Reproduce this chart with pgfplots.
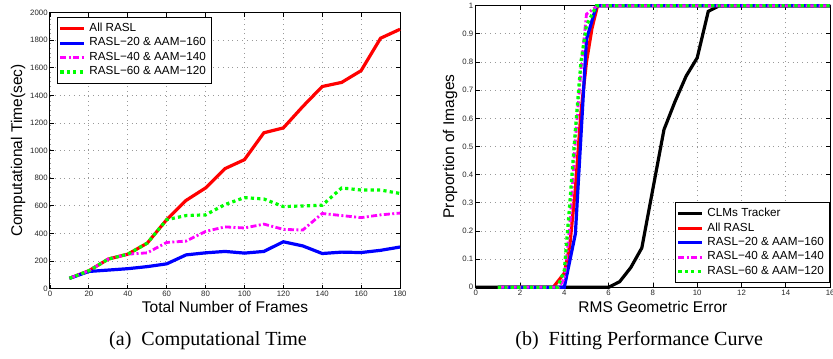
\documentclass[border=0pt]{standalone}
\usepackage{pgfplots}
\pgfplotsset{compat=1.18}
\usepackage{fontspec}
\setmainfont{Liberation Sans}
\newfontfamily\capfont{Liberation Serif}
\definecolor{mred}{RGB}{255,0,0}
\definecolor{mblue}{RGB}{0,0,255}
\definecolor{mmag}{RGB}{255,0,255}
\definecolor{mgreen}{RGB}{0,255,0}
\begin{document}
\begin{tikzpicture}
\path[use as bounding box] (0pt,0pt) rectangle (416.5pt,179pt);
\pgfplotsset{
  every axis/.append style={
    scale only axis,
    clip=false,
    axis line style={line width=0.5pt},
    tick align=inside,
    major tick length=2pt,
    tick style={line width=0.4pt, black},
    grid=major,
    major grid style={dotted, gray!80, line width=0.4pt},
    ticklabel style={font=\fontsize{3.9}{4.5}\selectfont, text=black!85, inner sep=1pt},
    /pgf/number format/assume math mode=true,
    /pgf/number format/1000 sep={},
    label style={font=\fontsize{7.75}{9}\selectfont},
    legend style={font=\fontsize{5.85}{7}\selectfont, draw=black, line width=0.6pt,
      inner sep=0.8pt, row sep=-2.4pt, cells={anchor=west}},
    legend cell align=left,
    legend image code/.code={\draw[#1] (0pt,0pt) -- (11.7pt,0pt);},
  },
}
\begin{scope}[shift={(25pt,34.65pt)}]
\begin{axis}[
  at={(0pt,0pt)}, anchor=south west,
  width=175pt, height=138pt,
  xmin=0, xmax=180, ymin=0, ymax=2000,
  xtick={0,20,...,180}, ytick={0,200,...,2000},
  scaled y ticks=false,
  xlabel={Total Number of Frames},
  ylabel={Computational Time(sec)},
  xlabel style={at={(axis description cs:0.5,-0.065)}, anchor=center},
  ylabel style={at={(axis description cs:-0.0914,0.5)}, anchor=center},
  legend style={at={(axis description cs:0.019,0.985)}, anchor=north west},
]
\addplot[mred, line width=1.6pt] coordinates {
(10,75)(20,130)(30,215)(40,250)(50,330)(60,500)(70,640)(80,730)(90,870)(100,935)
(110,1130)(120,1165)(130,1320)(140,1465)(150,1495)(160,1580)(170,1815)(180,1880)};
\addlegendentry{All RASL}
\addplot[mblue, line width=1.6pt] coordinates {
(10,75)(20,125)(30,135)(40,145)(50,160)(60,180)(70,245)(80,260)(90,270)(100,258)
(110,270)(120,340)(130,310)(140,255)(150,265)(160,262)(170,278)(180,302)};
\addlegendentry{RASL−20 \& AAM−160}
\addplot[mmag, line width=1.4pt, dash pattern=on 3pt off 1.2pt on 1pt off 1.2pt] coordinates {
(10,75)(20,130)(30,215)(40,250)(50,260)(60,335)(70,345)(80,415)(90,448)(100,440)
(110,468)(120,430)(130,425)(140,545)(150,530)(160,515)(170,535)(180,548)};
\addlegendentry{RASL−40 \& AAM−140}
\addplot[mgreen, line width=1.6pt, dash pattern=on 1.6pt off 1.6pt] coordinates {
(10,75)(20,130)(30,215)(40,250)(50,330)(60,500)(70,530)(80,535)(90,610)(100,660)
(110,650)(120,595)(130,600)(140,605)(150,730)(160,715)(170,715)(180,690)};
\addlegendentry{RASL−60 \& AAM−120}
\end{axis}
\end{scope}
\begin{scope}[shift={(237.85pt,35.35pt)}]
\begin{axis}[
  at={(0pt,0pt)}, anchor=south west,
  width=177.2pt, height=140.8pt,
  xmin=0, xmax=16, ymin=0, ymax=1,
  xtick={0,2,...,16}, ytick={0,0.1,...,1.0},
  yticklabels={0,0.1,0.2,0.3,0.4,0.5,0.6,0.7,0.8,0.9,1},
  xlabel={RMS Geometric Error},
  ylabel={Proportion of Images},
  xlabel style={at={(axis description cs:0.5,-0.069)}, anchor=center},
  ylabel style={at={(axis description cs:-0.0725,0.5)}, anchor=center},
  legend style={at={(axis description cs:1,0.014)}, anchor=south east},
]
\addplot[black, line width=1.6pt] coordinates {
(0,0)(6,0)(6.5,0.02)(7,0.07)(7.5,0.14)(8,0.35)(8.5,0.56)(9,0.66)(9.5,0.75)(10,0.815)
(10.5,0.98)(11,1)(16,1)};
\addlegendentry{CLMs Tracker}
\addplot[mred, line width=1.6pt] coordinates {
(1,0)(3.5,0)(4,0.05)(4.25,0.15)(4.5,0.35)(4.75,0.62)(5,0.8)(5.25,0.92)(5.5,1)(16,1)};
\addlegendentry{All RASL}
\addplot[mblue, line width=1.6pt] coordinates {
(1,0)(4,0)(4.5,0.19)(5,0.88)(5.45,1)(16,1)};
\addlegendentry{RASL−20 \& AAM−160}
\addplot[mmag, line width=1.4pt, dash pattern=on 3pt off 1.2pt on 1pt off 1.2pt] coordinates {
(1,0)(3.75,0)(4,0.03)(4.25,0.22)(4.5,0.52)(4.75,0.77)(5,0.97)(5.5,1)(16,1)};
\addlegendentry{RASL−40 \& AAM−140}
\addplot[mgreen, line width=1.6pt, dash pattern=on 1.6pt off 1.6pt] coordinates {
(1,0)(3.7,0)(4,0.06)(4.25,0.3)(4.5,0.56)(4.75,0.8)(5,0.93)(5.45,1)(16,1)};
\addlegendentry{RASL−60 \& AAM−120}
\end{axis}
\end{scope}
\node[font=\capfont\fontsize{10}{12}\selectfont] at (104pt,8.5pt) {(a)\hspace{5pt}Computational Time};
\node[font=\capfont\fontsize{10}{12}\selectfont] at (319.6pt,8.5pt) {(b)\hspace{5pt}Fitting Performance Curve};
\end{tikzpicture}
\end{document}
